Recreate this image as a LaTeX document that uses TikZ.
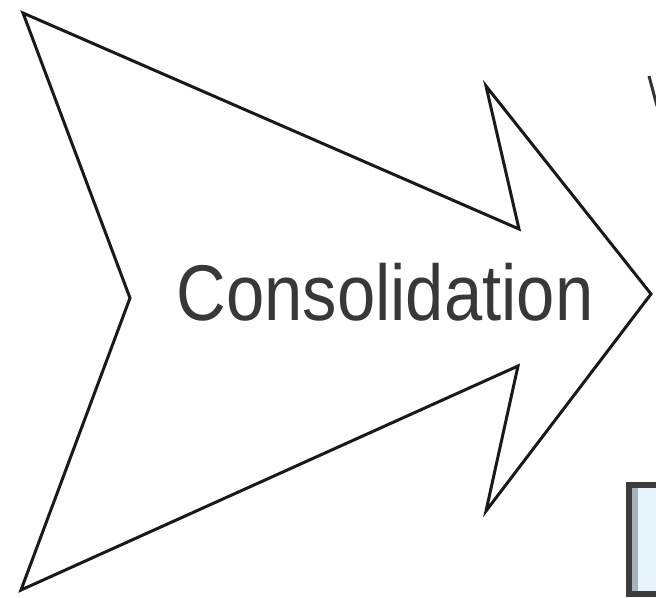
\documentclass[tikz,border=0pt]{standalone}
\usepackage{fontspec}
\setmainfont{Liberation Sans}
\definecolor{boxfill}{HTML}{E8F4FC}
\definecolor{boxedge}{HTML}{3C3C3C}
\definecolor{boxshade}{HTML}{A8B4BC}
\begin{document}
\begin{tikzpicture}[x=0.02cm,y=-0.02cm]
  \useasboundingbox (0,0) rectangle (656,598);
  \coordinate (A) at (23,13);
  \coordinate (B) at (519,229);
  \coordinate (C) at (486,86);
  \coordinate (D) at (651,294);
  \coordinate (E) at (486,511);
  \coordinate (F) at (518,366);
  \coordinate (G) at (21,590);
  \coordinate (H) at (130,298);
  \draw[line width=1.7pt,line join=miter,black!90] (A)--(B)--(C)--(D)--(E)--(F)--(G)--(H)--cycle;
  \node[anchor=base,inner sep=0pt,xscale=0.87,text=black!78,
        font=\fontsize{45}{50}\selectfont] (label) at (385,320) {Consolidation};
  % piece of the next shape, cut off at the edge
  \coordinate (V1) at (649,76);
  \coordinate (V2) at (657,106);
  \draw[line width=1.7pt,black!80] (V1)--(V2);
  % box at the lower right
  \fill[boxfill] (629,485) rectangle (660,594);
  \fill[boxshade] (632,488) rectangle (638,591);
  \draw[boxedge,line width=3pt] (629,485) rectangle (664,594);
\end{tikzpicture}
\end{document}
